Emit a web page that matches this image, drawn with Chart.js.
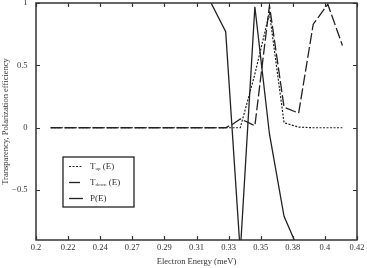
<!DOCTYPE html>
<html>
<head>
<meta charset="utf-8">
<script src="https://cdn.jsdelivr.net/npm/chart.js@4"></script>
<style>
  html, body { margin: 0; padding: 0; background: #fff; }
  canvas { display: block; }
</style>
</head>
<body>
<canvas id="chart" width="367" height="268"></canvas>
<script>
// values
const energyUp = [0.21, 0.22, 0.23, 0.24, 0.25, 0.26, 0.27, 0.28, 0.29, 0.30, 0.31, 0.32, 0.33, 0.34, 0.35, 0.36, 0.37, 0.38, 0.39, 0.40, 0.41];
const tUp      = [0, 0, 0, 0, 0, 0, 0, 0, 0, 0, 0, 0, 0, 0, 0.43, 0.92, 0.04, 0.005, 0, 0, 0];

const energyDown = [0.21, 0.22, 0.23, 0.24, 0.25, 0.26, 0.27, 0.28, 0.29, 0.30, 0.31, 0.32, 0.33, 0.335, 0.34, 0.345, 0.35, 0.36, 0.37, 0.38, 0.39, 0.40, 0.41];
const tDown      = [0, 0, 0, 0, 0, 0, 0, 0, 0, 0, 0, 0, 0, 0.03, 0.07, 0.045, 0.015, 0.98, 0.165, 0.117, 0.83, 0.99, 0.66];

const energyP = [0.32, 0.33, 0.34, 0.35, 0.36, 0.37, 0.38];
const polarization = [1.0, 0.77, -1.0, 0.97, -0.05, -0.71, -0.98];

const xTicks = [0.2, 0.222, 0.244, 0.266, 0.288, 0.31, 0.332, 0.354, 0.376, 0.398, 0.42];
const xTickLabels = ['0.2', '0.22', '0.24', '0.27', '0.29', '0.31', '0.33', '0.35', '0.38', '0.4', '0.42'];
const yTicks = [-0.5, 0, 0.5, 1];
const yTickLabels = ['\u22120.5', '0', '0.5', '1'];

const serif = '"Liberation Serif", "Times New Roman", serif';
const ink = '#222';
const textInk = '#333';

const toPoints = (xs, ys) => xs.map((x, i) => ({ x: x, y: ys[i] }));

// box frame + inward tick marks on all four sides
const framePlugin = {
  id: 'frame',
  afterDatasetsDraw(chart) {
    const { ctx, chartArea: a, scales: { x, y } } = chart;
    ctx.save();
    ctx.strokeStyle = '#333';
    ctx.lineWidth = 1.2;
    ctx.beginPath();
    x.ticks.forEach(t => {
      const px = Math.round(x.getPixelForValue(t.value)) + 0.5;
      ctx.moveTo(px, a.bottom); ctx.lineTo(px, a.bottom - 4);
      ctx.moveTo(px, a.top); ctx.lineTo(px, a.top + 4);
    });
    y.ticks.forEach(t => {
      const py = Math.round(y.getPixelForValue(t.value)) + 0.5;
      ctx.moveTo(a.left, py); ctx.lineTo(a.left + 4, py);
      ctx.moveTo(a.right, py); ctx.lineTo(a.right - 4, py);
    });
    ctx.stroke();
    ctx.lineWidth = 1.5;
    ctx.strokeRect(a.left, a.top, a.right - a.left, a.bottom - a.top);
    ctx.restore();
  }
};

// legend box with subscripted labels
const legendPlugin = {
  id: 'boxLegend',
  afterDatasetsDraw(chart) {
    const { ctx, chartArea: a } = chart;
    const bx = a.left + 27, by = a.top + 154, bw = 71, bh = 50;
    ctx.save();
    ctx.fillStyle = '#fff';
    ctx.fillRect(bx, by, bw, bh);
    ctx.strokeStyle = '#222';
    ctx.lineWidth = 1.3;
    ctx.strokeRect(bx, by, bw, bh);
    const entries = [
      { main: 'T', sub: 'up', tail: ' (E)' },
      { main: 'T', sub: 'down', tail: ' (E)' },
      { main: 'P(E)', sub: '', tail: '' }
    ];
    chart.data.datasets.forEach((ds, i) => {
      const ry = by + 9.5 + i * 16;
      ctx.strokeStyle = ds.borderColor;
      ctx.lineWidth = ds.borderWidth;
      ctx.setLineDash(ds.borderDash || []);
      ctx.beginPath();
      ctx.moveTo(bx + 6, ry);
      ctx.lineTo(bx + 20, ry);
      ctx.stroke();
      ctx.setLineDash([]);
      const e = entries[i];
      let tx = bx + 27;
      ctx.fillStyle = textInk;
      ctx.textBaseline = 'middle';
      ctx.font = '9px ' + serif;
      ctx.fillText(e.main, tx, ry);
      tx += ctx.measureText(e.main).width;
      if (e.sub) {
        ctx.font = '5px ' + serif;
        ctx.fillText(e.sub, tx, ry + 2.5);
        tx += ctx.measureText(e.sub).width;
      }
      if (e.tail) {
        ctx.font = '9px ' + serif;
        ctx.fillText(e.tail, tx, ry);
      }
    });
    ctx.restore();
  }
};

new Chart(document.getElementById('chart'), {
  type: 'line',
  data: {
    datasets: [
      {
        label: 'Tup(E)',
        data: toPoints(energyUp, tUp),
        borderColor: ink,
        borderWidth: 1.2,
        borderDash: [2, 1.5]
      },
      {
        label: 'Tdown(E)',
        data: toPoints(energyDown, tDown),
        borderColor: ink,
        borderWidth: 1.3,
        borderDash: [11, 3]
      },
      {
        label: 'P(E)',
        data: toPoints(energyP, polarization),
        borderColor: ink,
        borderWidth: 1.3
      }
    ]
  },
  options: {
    responsive: false,
    animation: false,
    devicePixelRatio: 1,
    layout: { padding: { top: 3, right: 10, left: 0, bottom: 0 } },
    elements: { point: { radius: 0 }, line: { tension: 0 } },
    plugins: {
      legend: { display: false },
      tooltip: { enabled: false }
    },
    scales: {
      x: {
        type: 'linear',
        position: 'bottom',
        min: 0.2,
        max: 0.42,
        grid: { display: false, drawTicks: false },
        border: { display: false },
        afterBuildTicks: s => { s.ticks = xTicks.map(v => ({ value: v })); },
        afterFit: s => { s.height = 28; s.paddingLeft = 0; s.paddingRight = 0; },
        ticks: {
          autoSkip: false,
          maxRotation: 0,
          padding: 3,
          color: textInk,
          font: { family: serif, size: 8.5 },
          callback: (v, i) => xTickLabels[i]
        },
        title: {
          display: true,
          text: 'Electron Energy (meV)',
          color: textInk,
          font: { family: serif, size: 8.5 },
          padding: 1
        }
      },
      y: {
        type: 'linear',
        min: -0.9,
        max: 1,
        grid: { display: false, drawTicks: false },
        border: { display: false },
        afterBuildTicks: s => { s.ticks = yTicks.map(v => ({ value: v })); },
        afterFit: s => { s.width = 36; s.paddingTop = 0; s.paddingBottom = 0; },
        ticks: {
          padding: 8.5,
          color: textInk,
          font: { family: serif, size: 8.5 },
          callback: (v, i) => yTickLabels[i]
        },
        title: {
          display: true,
          text: 'Transparency, Polarization efficiency',
          color: textInk,
          font: { family: serif, size: 8.5 },
          padding: 1
        }
      }
    }
  },
  plugins: [framePlugin, legendPlugin]
});
</script>
</body>
</html>
